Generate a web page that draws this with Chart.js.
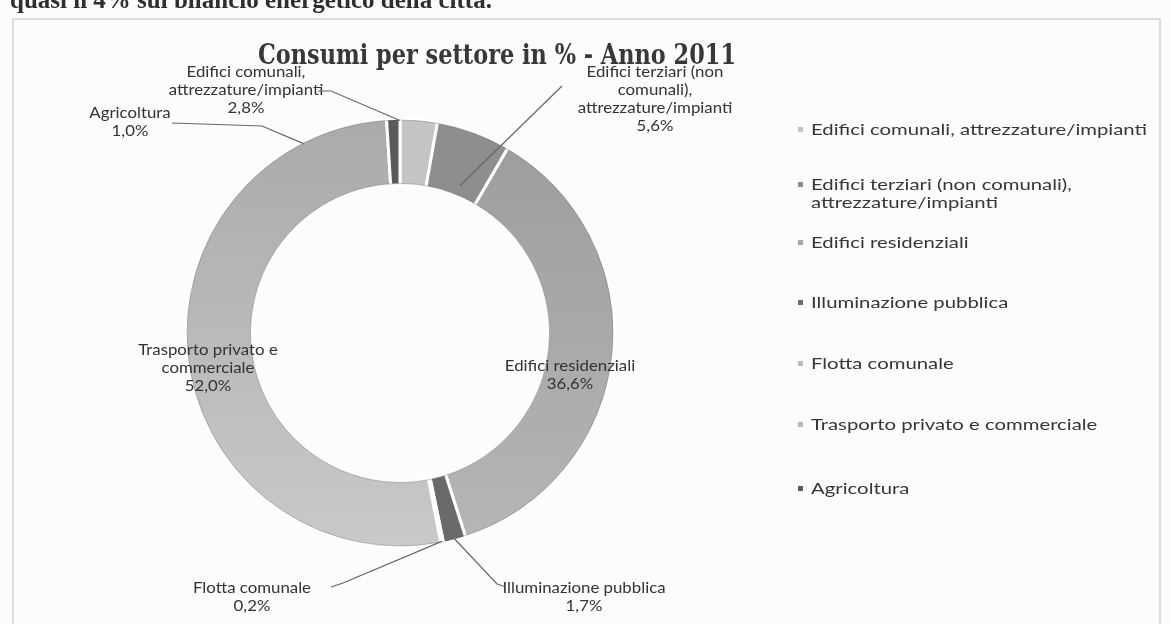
<!DOCTYPE html>
<html><head><meta charset="utf-8">
<script src="https://cdn.jsdelivr.net/npm/chart.js@4/dist/chart.umd.min.js"></script>
<style>html,body{margin:0;padding:0;background:#fcfcfa;}canvas{display:block}</style>
</head><body>
<canvas id="c" width="1171" height="624"></canvas>
<script>
// ---- data ----
const categories = [
  "Edifici comunali, attrezzature/impianti",
  "Edifici terziari (non comunali), attrezzature/impianti",
  "Edifici residenziali",
  "Illuminazione pubblica",
  "Flotta comunale",
  "Trasporto privato e commerciale",
  "Agricoltura"
];
const shares = [2.8, 5.6, 36.6, 1.7, 0.2, 52.0, 1.0];
const titleText = "Consumi per settore in % - Anno 2011";
const headerText = "quasi il 4% sul bilancio energetico della città.";
// wrapped text of the legend entries and of the data labels
const legendLines = [
  ["Edifici comunali, attrezzature/impianti"],
  ["Edifici terziari (non comunali),", "attrezzature/impianti"],
  ["Edifici residenziali"],
  ["Illuminazione pubblica"],
  ["Flotta comunale"],
  ["Trasporto privato e commerciale"],
  ["Agricoltura"]
];
const labelLines = [
  ["Edifici comunali,", "attrezzature/impianti"],
  ["Edifici terziari (non", "comunali),", "attrezzature/impianti"],
  ["Edifici residenziali"],
  ["Illuminazione pubblica"],
  ["Flotta comunale"],
  ["Trasporto privato e", "commerciale"],
  ["Agricoltura"]
];

// ---- styles / layout ----
const sliceColors = ["#c4c4c2", "#8e8e8c", "#a6a6a4", "#6a6a68", "#bdbdbb", "#b7b7b5", "#5a5a58"];
// top -> bottom shading of the scanned ring (null = flat colour)
const sliceShade = [null, null, ["#9c9c9a", "#b6b6b4"], null, null, ["#aaaaa8", "#c9c9c7"], null];
const labelLayout = [
  {x: 246, y: 72, leader: [[318, 91], [331, 91]], anchor: {frac: 0.0, r: 1.0}},
  {x: 655, y: 72, leader: [[562, 86]], anchor: {frac: 0.6, r: 0.2}},
  {x: 570, y: 366},
  {x: 584, y: 588, leader: [[506, 587], [497, 584]], anchor: {frac: 0.5, r: 1.0}},
  {x: 252, y: 588, leader: [[331, 587], [343, 583]], anchor: {frac: 0.5, r: 1.0}},
  {x: 208, y: 350},
  {x: 130, y: 113, leader: [[172, 123], [262, 126]], anchor: {deg: 333, r: 1.0}}
];
const legendY = [130, 185, 243, 303, 364, 425, 489];
const LABEL_FONT = "15px Lato";
const LEGEND_FONT = "16px Lato";
const SX_LABEL = 1.12;
const SX_LEGEND = 1.27;
const LINE_H = 18;

function fmt(v) { return v.toFixed(1).replace('.', ',') + '%'; }
function stretchText(ctx, text, x, y, align, sx) {
  ctx.save(); ctx.translate(x, y); ctx.scale(sx, 1);
  ctx.textAlign = align; ctx.fillText(text, 0, 0); ctx.restore();
}
function sliceFill(c) {
  const i = c.dataIndex;
  const area = c.chart.chartArea;
  if (!area || !sliceShade[i]) return sliceColors[i];
  const g = c.chart.ctx.createLinearGradient(0, area.top, 0, area.bottom);
  g.addColorStop(0, sliceShade[i][0]);
  g.addColorStop(1, sliceShade[i][1]);
  return g;
}

const decor = {
  id: 'decor',
  beforeDraw(chart) {
    const ctx = chart.ctx;
    ctx.save();
    ctx.fillStyle = '#fcfcfa';
    ctx.fillRect(0, 0, chart.width, chart.height);
    // page frame of the figure
    ctx.strokeStyle = '#d2d2d0'; ctx.lineWidth = 1.5;
    ctx.beginPath();
    ctx.moveTo(13, 630); ctx.lineTo(13, 19); ctx.lineTo(1160, 19); ctx.lineTo(1160, 630);
    ctx.stroke();
    // cut document line at the very top
    ctx.fillStyle = '#2e2e2e';
    ctx.font = 'bold 25px "Liberation Serif"';
    ctx.textBaseline = 'alphabetic';
    ctx.textAlign = 'left';
    ctx.fillText(headerText, 10, 8);
    // title
    ctx.fillStyle = '#383838';
    ctx.font = 'bold 27px "DejaVu Serif"';
    ctx.textBaseline = 'middle';
    ctx.textAlign = 'center';
    ctx.fillText(titleText, 497, 57, 478);
    ctx.restore();
  },
  afterDatasetsDraw(chart) {
    const ctx = chart.ctx;
    const meta = chart.getDatasetMeta(0);
    const arcs = meta.data;
    const a0 = arcs[0];
    const cx = a0.x, cy = a0.y, R = a0.outerRadius - 1.5, r = a0.innerRadius + 1.5;
    ctx.save();
    // subtle edge shading of the ring
    ctx.strokeStyle = 'rgba(90,90,90,0.35)'; ctx.lineWidth = 1;
    ctx.beginPath(); ctx.arc(cx, cy, R, 0, Math.PI * 2); ctx.stroke();
    ctx.beginPath(); ctx.arc(cx, cy, r, 0, Math.PI * 2); ctx.stroke();

    // data labels
    ctx.font = LABEL_FONT;
    ctx.textBaseline = 'middle';
    ctx.fillStyle = '#333333';
    labelLayout.forEach((L, i) => {
      const lines = labelLines[i].concat([fmt(shares[i])]);
      lines.forEach((t, k) => stretchText(ctx, t, L.x, L.y + k * LINE_H, 'center', SX_LABEL));
      if (L.leader) {
        const arc = arcs[i];
        let ang;
        if (L.anchor.deg !== undefined) ang = L.anchor.deg * Math.PI / 180 - Math.PI / 2;
        else ang = arc.startAngle + (arc.endAngle - arc.startAngle) * L.anchor.frac;
        const rad = arc.innerRadius + (arc.outerRadius - arc.innerRadius) * L.anchor.r - 2;
        const ex = cx + rad * Math.cos(ang), ey = cy + rad * Math.sin(ang);
        ctx.strokeStyle = '#666666'; ctx.lineWidth = 1.2;
        ctx.beginPath();
        ctx.moveTo(L.leader[0][0], L.leader[0][1]);
        for (let k = 1; k < L.leader.length; k++) ctx.lineTo(L.leader[k][0], L.leader[k][1]);
        ctx.lineTo(ex, ey);
        ctx.stroke();
      }
    });

    // legend
    ctx.font = LEGEND_FONT;
    ctx.textBaseline = 'middle';
    legendLines.forEach((lines, i) => {
      const y = legendY[i];
      ctx.fillStyle = sliceColors[i];
      ctx.fillRect(798, y - 3, 5, 5);
      ctx.fillStyle = '#363636';
      lines.forEach((t, k) => stretchText(ctx, t, 811, y + k * LINE_H, 'left', SX_LEGEND));
    });
    ctx.restore();
  }
};

new Chart(document.getElementById('c'), {
  type: 'doughnut',
  data: {
    labels: categories,
    datasets: [{
      data: shares,
      backgroundColor: sliceFill,
      borderColor: '#ffffff',
      borderWidth: 3
    }]
  },
  options: {
    responsive: false,
    animation: false,
    cutout: '69%',
    layout: {padding: {left: 184, right: 555, top: 117, bottom: 75}},
    plugins: {legend: {display: false}, title: {display: false}, tooltip: {enabled: false}}
  },
  plugins: [decor]
});
</script>
</body></html>
